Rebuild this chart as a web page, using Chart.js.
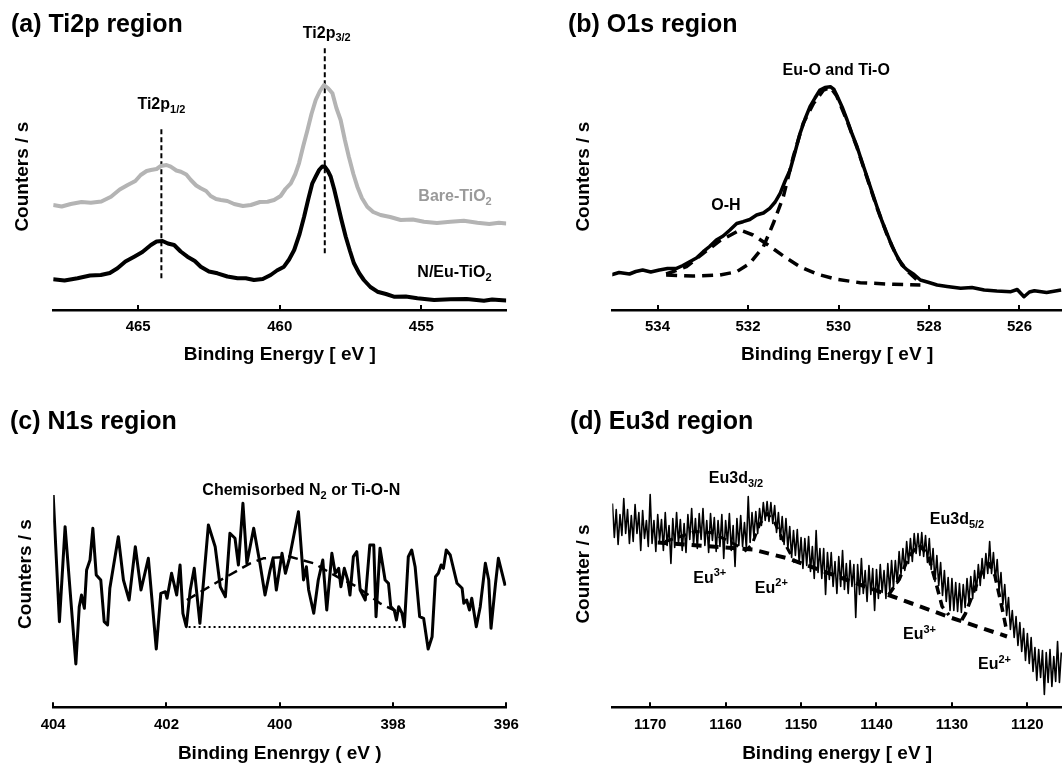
<!DOCTYPE html>
<html>
<head>
<meta charset="utf-8">
<script src="https://cdn.jsdelivr.net/npm/chart.js@4/dist/chart.umd.min.js"></script>
<style>
  html, body { margin: 0; padding: 0; background: #fff; overflow: hidden; width: 1062px; height: 767px; }
  canvas { position: absolute; }
</style>
</head>
<body>
<canvas id="ca" width="531" height="384" style="left:0;top:0"></canvas>
<canvas id="cb" width="531" height="384" style="left:531px;top:0"></canvas>
<canvas id="cc" width="531" height="400" style="left:0;top:384px"></canvas>
<canvas id="cd" width="531" height="400" style="left:531px;top:384px"></canvas>
<script>
// ---------- (a) Ti2p region ----------
const tiBareE = [468.0,467.7,467.38,467.0,466.67,466.3,465.96,465.65,465.37,465.1,464.91,464.7,464.55,464.35,464.2,464.0,463.85,463.65,463.49,463.3,463.14,462.95,462.79,462.6,462.44,462.25,462.08,461.85,461.61,461.3,461.02,460.7,460.43,460.2,459.97,459.8,459.61,459.45,459.32,459.17,459.02,458.88,458.73,458.58,458.44,458.3,458.14,458.0,457.85,457.7,457.56,457.4,457.26,457.1,456.91,456.7,456.44,456.1,455.73,455.3,454.91,454.45,453.97,453.5,453.02,452.6,452.26,452.0];
const tiBareV = [110,108.5,111,113,112.3,113.5,118.3,125.5,130,134,140,144,145,146,149,150,148.3,144.5,143.3,140.5,135,129.5,126.7,124,119,116,115,114,111,109,110,113,113.3,115,119,126,131.7,141,151.7,169,185,201,215,224,230,227,221.7,207,195,175,158.3,141,128.3,117,108.3,103,100,98,95,95.5,93.3,92,93.3,94.2,92.3,91,92.3,91.5];
const tiNEuE = [468.0,467.6,467.14,466.7,466.32,466.0,465.73,465.45,465.14,464.85,464.55,464.35,464.14,463.95,463.73,463.5,463.26,463.0,462.79,462.5,462.2,461.85,461.49,461.2,460.91,460.6,460.32,460.1,459.85,459.67,459.49,459.3,459.14,459.0,458.85,458.72,458.61,458.5,458.41,458.3,458.2,458.08,457.96,457.82,457.67,457.52,457.38,457.2,457.03,456.8,456.55,456.25,455.97,455.55,455.14,454.55,453.97,453.4,452.79,452.5,452.26,452.0];
const tiNEuV = [35.7,34.5,36.7,39.5,40,42,46.7,53.5,58.3,63,70,73.5,74,71.5,70,63.5,58.3,54,48.3,43.5,41.7,38.5,36.7,36.8,35,36,40,44.5,48.3,55.5,65,81,98.3,115,131.7,139,145,148.5,148.3,144,138.3,126,111.7,95,78.3,64,51.7,42,35,28,23.3,21,18.3,18.5,16.7,15,15.7,16,14.3,15.5,15,14.5];
const tiPeakE = [464.18, 458.41];
const tiPeakLow = [36.7, 61.7];
const tiPeakHigh = [188.3, 267.6];
const tiTicks = [465, 460, 455];

// ---------- (b) O1s region ----------
const oE = [535.03,534.85,534.62,534.48,534.33,534.15,533.96,533.78,533.58,533.44,533.29,533.14,532.99,532.85,532.7,532.55,532.4,532.25,532.11,531.96,531.81,531.66,531.52,531.4,531.29,531.18,531.07,530.96,530.85,530.74,530.63,530.52,530.41,530.3,530.18,530.1,530.04,529.92,529.81,529.7,529.59,529.48,529.37,529.26,529.15,529.04,528.93,528.82,528.7,528.6,528.48,528.33,528.19,528.0,527.82,527.6,527.3,527.05,526.78,526.5,526.19,526.05,525.9,525.78,525.67,525.4,525.08];
const oV = [40,42.5,41,43.5,45,43,45,46.5,46.7,49.5,53.3,57,63.3,68.5,75,79,85,91.5,93.3,95.5,100,102,106.7,113,121.7,134,145,163,181.7,196,208.3,217,225,227.5,228.3,225.5,220,208,195,181,168.3,153,138.3,123,108.3,94,81.7,69,58.3,50,45,40.5,35,32.5,30,28.5,26.7,27.5,25,24,23.3,25.5,18.3,23,24.3,22.5,25];
const ohE = [533.81,533.36,532.99,532.62,532.18,531.89,531.59,531.22,530.85,530.48,530.04,529.52,528.78,528.19];
const ohV = [41,48.3,61.7,74.3,85,80,71,59,48.3,41,35.7,32.3,30.7,30];
const euoE = [533.81,533.22,532.62,532.25,531.96,531.66,531.44,531.22,531.0,530.78,530.55,530.33,530.18,530.04,529.81,529.59,529.37,529.15,528.93,528.7,528.48,528.19];
const euoV = [40,39,40,43.3,51.7,68.3,91.7,118.3,158.3,191.7,211.7,225,227.7,219,194,167.3,137.3,107.3,80.7,57.3,44,32];
const oTicks = [534, 532, 530, 528, 526];

// ---------- (c) N1s region ----------
const nE = [404.0,403.89,403.79,403.6,403.54,403.5,403.45,403.41,403.35,403.3,403.24,403.16,403.1,403.04,403.0,402.85,402.76,402.66,402.55,402.45,402.32,402.18,402.1,402.02,401.99,401.91,401.82,401.76,401.71,401.65,401.58,401.51,401.41,401.26,401.14,401.05,400.96,400.88,400.79,400.73,400.65,400.58,400.46,400.35,400.26,400.17,400.12,400.06,399.96,399.9,399.83,399.67,399.58,399.53,399.49,399.4,399.32,399.24,399.17,399.08,399.02,398.96,398.92,398.86,398.8,398.76,398.7,398.64,398.58,398.49,398.41,398.34,398.3,398.23,398.14,398.08,398.04,397.98,397.94,397.9,397.84,397.8,397.73,397.67,397.61,397.53,397.46,397.38,397.31,397.25,397.2,397.15,397.11,397.06,396.99,396.87,396.78,396.75,396.7,396.65,396.61,396.53,396.46,396.37,396.31,396.27,396.19,396.14,396.02];
const nV = [217.5,90.8,185.8,48.5,105.8,117.5,104.2,142.5,152.5,184.2,137.5,132.5,90.8,87.5,124.2,175.8,132.5,112.5,165.8,122.5,154.2,63.5,119.2,120.8,114.2,139.2,117.5,147.5,99.2,85.8,122.5,144.2,89.2,187.5,165.8,125.8,115.8,179.2,174.2,147.5,209.2,149.2,184.2,149.2,117.5,142.5,154.2,122.5,159.2,139.2,154.2,200.8,132.5,145.8,122.5,99.2,132.5,152.5,102.5,159.2,139.2,144.2,125.8,144.2,132.5,117.5,155.8,160.8,122.5,112.5,167.5,167.5,95.8,164.2,132.5,129.2,105.8,102.5,92.5,105.8,99.2,85.8,155.8,162.5,145.8,95.8,94.2,63.5,75.8,135.8,139.2,147.5,144.2,162.5,157.5,129.2,124.2,109.2,112.5,102.5,114.2,85.8,105.8,149.2,132.5,84.2,129.2,154.2,126.8];
const nFitE = [401.64,400.99,400.52,400.29,399.82,399.4,398.99,398.64,398.23,397.87,397.82];
const nFitV = [112.5,134.2,149.2,154.2,155.8,149.2,135.8,125.8,109.2,99.2,97];
const nBaseE = [401.61, 397.81];
const nBaseV = [85.5, 85.5];
const nTicks = [404, 402, 400, 398, 396];

// ---------- (d) Eu3d region ----------
const euE = [1175,1174.75,1174.5,1174.25,1174,1173.75,1173.5,1173.25,1173,1172.75,1172.5,1172.25,1172,1171.75,1171.5,1171.25,1171,1170.75,1170.5,1170.25,1170,1169.75,1169.5,1169.25,1169,1168.75,1168.5,1168.25,1168,1167.75,1167.5,1167.25,1167,1166.75,1166.5,1166.25,1166,1165.75,1165.5,1165.25,1165,1164.75,1164.5,1164.25,1164,1163.75,1163.5,1163.25,1163,1162.75,1162.5,1162.25,1162,1161.75,1161.5,1161.25,1161,1160.75,1160.5,1160.25,1160,1159.75,1159.5,1159.25,1159,1158.75,1158.5,1158.25,1158,1157.75,1157.5,1157.25,1157,1156.75,1156.5,1156.25,1156,1155.75,1155.5,1155.25,1155,1154.75,1154.5,1154.25,1154,1153.75,1153.5,1153.25,1153,1152.75,1152.5,1152.25,1152,1151.75,1151.5,1151.25,1151,1150.75,1150.5,1150.25,1150,1149.75,1149.5,1149.25,1149,1148.75,1148.5,1148.25,1148,1147.75,1147.5,1147.25,1147,1146.75,1146.5,1146.25,1146,1145.75,1145.5,1145.25,1145,1144.75,1144.5,1144.25,1144,1143.75,1143.5,1143.25,1143,1142.75,1142.5,1142.25,1142,1141.75,1141.5,1141.25,1141,1140.75,1140.5,1140.25,1140,1139.75,1139.5,1139.25,1139,1138.75,1138.5,1138.25,1138,1137.75,1137.5,1137.25,1137,1136.75,1136.5,1136.25,1136,1135.75,1135.5,1135.25,1135,1134.75,1134.5,1134.25,1134,1133.75,1133.5,1133.25,1133,1132.75,1132.5,1132.25,1132,1131.75,1131.5,1131.25,1131,1130.75,1130.5,1130.25,1130,1129.75,1129.5,1129.25,1129,1128.75,1128.5,1128.25,1128,1127.75,1127.5,1127.25,1127,1126.75,1126.5,1126.25,1126,1125.75,1125.5,1125.25,1125,1124.75,1124.5,1124.25,1124,1123.75,1123.5,1123.25,1123,1122.75,1122.5,1122.25,1122,1121.75,1121.5,1121.25,1121,1120.75,1120.5,1120.25,1120,1119.75,1119.5,1119.25,1119,1118.75,1118.5,1118.25,1118,1117.75,1117.5,1117.25,1117,1116.75,1116.5,1116.25,1116,1115.75,1115.5];
const euV = [209,175,203,168,198,177,214,179,203,169,197,171,208,179,200,162,202,174,192,166,218,169,192,161,198,172,193,162,200,167,187,149,194,165,200,169,193,162,189,160,198,173,204,168,194,164,199,173,204,167,192,160,199,172,195,161,192,166,198,154,192,169,199,162,187,146,194,167,197,166,190,164,216,170,200,176,201,179,204,187,210,192,211,191,210,189,207,180,200,173,196,168,194,164,186,155,182,157,183,150,175,144,174,147,176,141,166,134,182,140,164,134,164,118,160,133,160,126,151,119,156,126,162,123,149,119,152,126,148,95,148,118,154,119,142,111,147,118,144,102,143,114,148,120,142,114,149,122,152,125,152,129,161,138,164,142,171,149,174,151,179,159,179,157,180,156,177,150,174,143,164,131,157,127,150,117,142,111,135,102,134,102,130,101,129,100,128,105,134,111,136,114,142,122,148,127,154,134,159,139,171,139,160,132,153,121,140,108,128,97,115,83,102,75,96,67,90,61,84,52,79,49,75,41,65,32,63,35,62,18,60,30,63,26,56,31,71,30,60];
const euBgE = [1169, 1156.4, 1151.7, 1138.4, 1130.2, 1122.7];
const euBgV = [170, 163, 154, 117.5, 95, 76];
const eu3aE = [1168, 1166, 1164, 1162, 1160, 1158];
const eu3aV = [171, 176, 181, 180, 173, 165];
const eu2aE = [1157.5, 1156.5, 1155.5, 1154.5, 1153.5, 1152.5, 1151.5, 1150.8];
const eu2aV = [161, 168, 188, 199, 190, 174, 160, 150];
const eu3bE = [1138.4, 1137, 1135.7, 1134.4, 1133.2, 1132.2, 1131.3, 1130.4];
const eu3bV = [117.5, 133, 156, 168, 158, 132, 106, 97.5];
const eu2bE = [1128.7, 1128.2, 1127, 1125.9, 1125.1, 1124.3, 1123.4, 1122.7];
const eu2bV = [92.5, 99, 123, 143, 149, 137, 106, 80];
const euTicks = [1170, 1160, 1150, 1140, 1130, 1120];

// ---------- helpers ----------
const FONT = "'Liberation Sans', Arial, Helvetica, sans-serif";
Chart.defaults.font.family = FONT;
Chart.defaults.color = '#000';

const pts = (xs, ys) => xs.map((x, i) => ({ x: x, y: ys[i] }));
function line(xs, ys, color, width, dash) {
  return { data: pts(xs, ys), borderColor: color, borderWidth: width, borderDash: dash || [],
    pointRadius: 0, fill: false, tension: 0, borderJoinStyle: 'round', borderCapStyle: 'butt' };
}

const annotPlugin = {
  id: 'annot',
  afterDatasetsDraw(chart, args, opts) {
    const { ctx, scales: { x, y } } = chart;
    (opts.items || []).forEach(it => {
      const px = x.getPixelForValue(it.x), py = y.getPixelForValue(it.y);
      ctx.save();
      ctx.fillStyle = it.color || '#000';
      ctx.textBaseline = 'middle';
      ctx.textAlign = 'left';
      let total = 0;
      const w = it.parts.map(p => { ctx.font = 'bold ' + p.s + 'px ' + FONT; const m = ctx.measureText(p.t).width; total += m; return m; });
      let cx = px - total / 2;
      it.parts.forEach((p, i) => { ctx.font = 'bold ' + p.s + 'px ' + FONT; ctx.fillText(p.t, cx, py + (p.dy || 0)); cx += w[i]; });
      ctx.restore();
    });
  }
};
const inwardTicks = {
  id: 'inwardTicks',
  afterDraw(chart) {
    const { ctx, scales: { x }, chartArea } = chart;
    ctx.save();
    ctx.strokeStyle = '#000';
    ctx.lineWidth = 2;
    x.ticks.forEach(t => {
      const px = Math.round(x.getPixelForValue(t.value));
      ctx.beginPath(); ctx.moveTo(px, chartArea.bottom); ctx.lineTo(px, chartArea.bottom - 5); ctx.stroke();
    });
    ctx.restore();
  }
};

function build(id, s) {
  return new Chart(document.getElementById(id), {
    type: 'line',
    data: { datasets: s.datasets },
    options: {
      responsive: false, animation: false, events: [],
      layout: { padding: { left: s.padL, right: s.padR, top: 0, bottom: 0 } },
      plugins: {
        legend: { display: false }, tooltip: { enabled: false },
        title: { display: true, text: s.title, align: 'start', color: '#000',
          font: { size: 25, weight: 'bold', family: FONT, lineHeight: 1.2 },
          padding: { top: s.titleTop, bottom: s.titleBottom } },
        annot: { items: s.items }
      },
      scales: {
        x: {
          type: 'linear', reverse: true, min: s.xmin, max: s.xmax,
          afterBuildTicks: sc => { sc.ticks = s.ticks.map(v => ({ value: v })); },
          afterFit: sc => { sc.height = s.xh; },
          grid: { display: false, drawTicks: false },
          border: { display: true, color: '#000', width: 2.5 },
          ticks: { color: '#000', font: { size: 15, weight: 'bold' }, padding: s.tickPad, autoSkip: false, maxRotation: 0, callback: v => String(v) },
          title: { display: true, text: s.xTitle, color: '#000', font: { size: 19, weight: 'bold', lineHeight: 1.2 }, padding: { top: 0, bottom: s.xTitleBottom } }
        },
        y: {
          type: 'linear', min: s.ymin, max: s.ymax,
          afterFit: sc => { sc.width = s.yw; },
          grid: { display: false, drawTicks: false },
          border: { display: false },
          ticks: { display: false },
          title: { display: true, text: s.yTitle, color: '#000', font: { size: 19, weight: 'bold', lineHeight: 1.2 }, padding: { top: s.yTitlePad, bottom: 0 } }
        }
      }
    },
    plugins: [annotPlugin, inwardTicks]
  });
}

const sub = (t) => ({ t: t, s: 11, dy: 5 });
const sup = (t) => ({ t: t, s: 11, dy: -5 });
const main = (t) => ({ t: t, s: 16 });

const row1 = { titleTop: 10, titleBottom: 3.4, xh: 74, tickPad: 7.7, xTitleBottom: 17.6, ymin: 5, ymax: 271.6 };
const row2 = { titleTop: 23.3, titleBottom: 3.4, xh: 76.7, tickPad: 8.4, xTitleBottom: 19.3, ymin: 5.2, ymax: 271.8 };

// (a)
build('ca', Object.assign({}, row1, {
  title: '(a) Ti2p region', padL: 11, padR: 24.7,
  xmin: 452, xmax: 468, ticks: tiTicks,
  xTitle: 'Binding Energy [ eV ]', yTitle: 'Counters / s', yw: 42.2, yTitlePad: 0.3,
  datasets: [
    line(tiBareE, tiBareV, '#b4b4b4', 4),
    line(tiNEuE, tiNEuV, '#000', 4),
    line([tiPeakE[0], tiPeakE[0]], [tiPeakLow[0], tiPeakHigh[0]], '#000', 2, [5, 3]),
    line([tiPeakE[1], tiPeakE[1]], [tiPeakLow[1], tiPeakHigh[1]], '#000', 2, [5, 3])
  ],
  items: [
    { x: 464.18, y: 210, parts: [main('Ti2p'), sub('1/2')] },
    { x: 458.34, y: 281.7, parts: [main('Ti2p'), sub('3/2')] },
    { x: 453.81, y: 118.3, color: '#9a9a9a', parts: [main('Bare-TiO'), sub('2')] },
    { x: 453.83, y: 42, parts: [main('N/Eu-TiO'), sub('2')] }
  ]
}));

// (b)
build('cb', Object.assign({}, row1, {
  title: '(b) O1s region', padL: 37, padR: 0,
  xmin: 525.06, xmax: 535, ticks: oTicks,
  xTitle: 'Binding Energy [ eV ]', yTitle: 'Counters / s', yw: 44.3, yTitlePad: 4.1,
  datasets: [
    line(ohE, ohV, '#000', 3.5, [11, 7]),
    line(euoE, euoV, '#000', 3.5, [11, 7]),
    line(oE, oV, '#000', 3.5)
  ],
  items: [
    { x: 530.05, y: 244, parts: [main('Eu-O and Ti-O')] },
    { x: 532.49, y: 109, parts: [main('O-H')] }
  ]
}));

// (c)
build('cc', Object.assign({}, row2, {
  title: '(c) N1s region', padL: 10, padR: 24.7,
  xmin: 396, xmax: 404, ticks: nTicks,
  xTitle: 'Binding Enenrgy ( eV )', yTitle: 'Counters / s', yw: 43.2, yTitlePad: 4,
  datasets: [
    line(nE, nV, '#000', 3),
    line(nFitE, nFitV, '#000', 2.5, [10, 6]),
    line(nBaseE, nBaseV, '#000', 2, [2, 3])
  ],
  items: [
    { x: 399.62, y: 221.8, parts: [main('Chemisorbed N'), sub('2'), main(' or Ti-O-N')] }
  ]
}));

// (d)
build('cd', Object.assign({}, row2, {
  title: '(d) Eu3d region', padL: 39, padR: 0,
  xmin: 1115.41, xmax: 1175.02, ticks: euTicks,
  xTitle: 'Binding energy [ eV ]', yTitle: 'Counter / s', yw: 42.3, yTitlePad: 2.1,
  datasets: [
    line(euE, euV, '#000', 1.6),
    line(euBgE, euBgV, '#000', 4, [10, 7]),
    line(eu3aE, eu3aV, '#000', 3, [8, 6]),
    line(eu2aE, eu2aV, '#000', 3, [8, 6]),
    line(eu3bE, eu3bV, '#000', 3.5, [9, 6]),
    line(eu2bE, eu2bV, '#000', 3.5, [9, 6])
  ],
  items: [
    { x: 1158.62, y: 234, parts: [main('Eu3d'), sub('3/2')] },
    { x: 1129.33, y: 192.5, parts: [main('Eu3d'), sub('5/2')] },
    { x: 1162.1, y: 134.2, parts: [main('Eu'), sup('3+')] },
    { x: 1153.94, y: 124.2, parts: [main('Eu'), sup('2+')] },
    { x: 1134.3, y: 77.5, parts: [main('Eu'), sup('3+')] },
    { x: 1124.36, y: 47.5, parts: [main('Eu'), sup('2+')] }
  ]
}));
</script>
</body>
</html>
